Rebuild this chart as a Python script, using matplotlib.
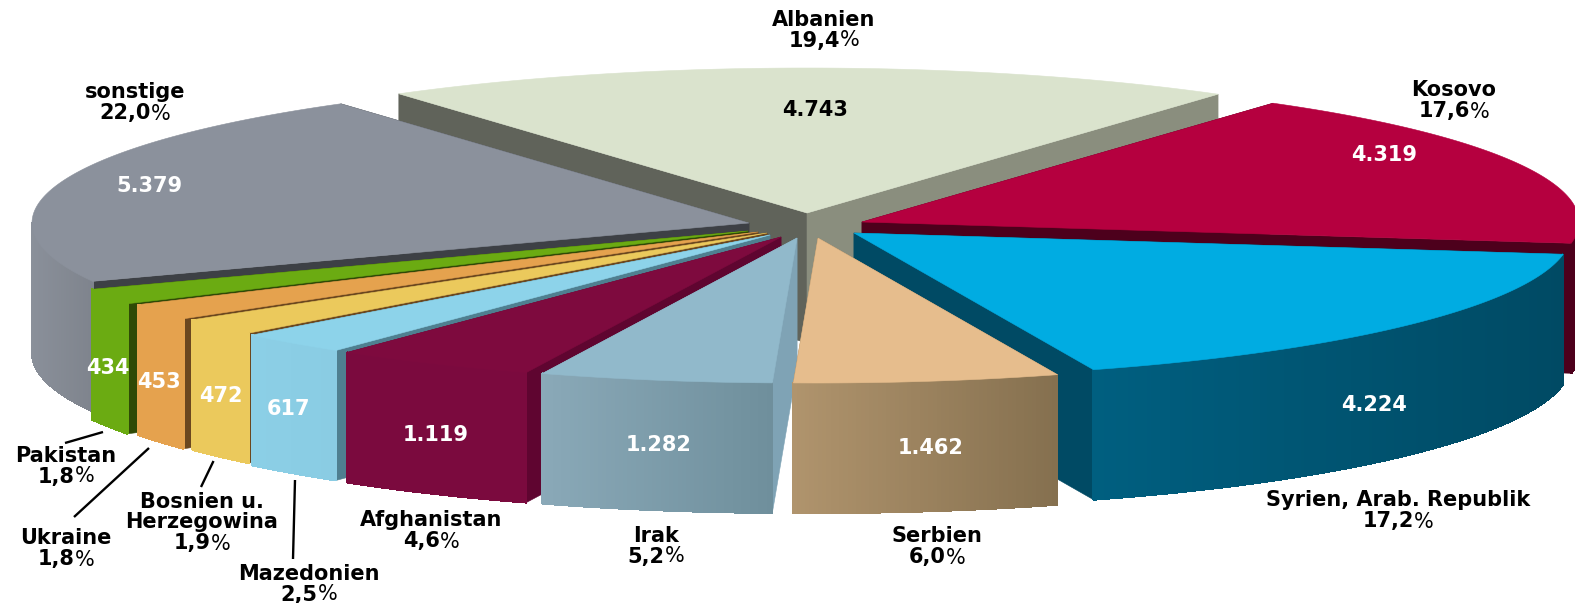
import numpy as np
import matplotlib
matplotlib.use('Agg')
import matplotlib.pyplot as plt
from matplotlib.colors import to_rgb
from matplotlib.patches import Polygon

# Chart data, clockwise from the back
countries = ['Albanien', 'Kosovo', 'Syrien, Arab. Republik', 'Serbien', 'Irak', 'Afghanistan',
             'Mazedonien', 'Bosnien u.\nHerzegowina', 'Ukraine', 'Pakistan', 'sonstige']
counts = [4743, 4319, 4224, 1462, 1282, 1119, 617, 472, 453, 434, 5379]
count_labels = ['4.743', '4.319', '4.224', '1.462', '1.282', '1.119', '617', '472', '453', '434', '5.379']
percent_labels = ['19,4', '17,6', '17,2', '6,0', '5,2', '4,6', '2,5', '1,9', '1,8', '1,8', '22,0']

# Pie geometry in pixels
RX = 717
RY = 145
DEPTH = 130
START_ANGLE = 124.7
apex_x = [807, 862, 854, 818, 797, 781, 770, 767, 758, 748, 749]
apex_y = [213, 222, 233, 238, 238, 237, 235, 233, 232, 231, 223]

top_colors = ['#dae3cd', '#b5003f', '#00ace2', '#e6bd8d', '#91b9cb', '#7e0a3e',
              '#8dd3ea', '#ebc95c', '#e5a24e', '#6bab12', '#8b919c']
start_wall = ['#60635a', '#4d001c', '#004a64', '#85704f', '#7fa3b5', '#5f0530',
              '#4f7f90', '#6b471f', '#6b471f', '#2f4a06', '#3d4045']
end_wall = ['#8a8e7e', '#4d001c', '#004a64', '#85704f', '#7fa3b5', '#5f0530',
            '#4f7f90', '#6b471f', '#6b471f', '#2f4a06', '#3d4045']
wall_left = ['#8a8e7e', '#4d001c', '#005f80', '#b0946d', '#8aa9b8', '#7b0a3e',
             '#8bcfe6', '#ebc95c', '#e5a24e', '#6bab12', '#8a909a']
wall_right = ['#8a8e7e', '#4d001c', '#004a64', '#85704f', '#6f8f9c', '#7b0a3e',
              '#8accE3', '#ebc95c', '#e5a24e', '#6bab12', '#7f848d']

draw_order = [0, 10, 1, 9, 8, 7, 6, 5, 2, 4, 3]

label_xy = {0: (824, 17.5), 1: (1454, 88.5), 2: (1398, 498.5), 3: (937, 534.5), 4: (656, 533.5), 5: (431, 518.5),
            6: (309, 571.5), 7: (202, 499.5), 8: (66, 536.5), 9: (66, 453.5), 10: (135, 90.5)}
count_xy = [(815, 108), (1384, 153), (1374, 403), (931, 446), (659, 443), (436, 433),
            (288, 407), (221, 394), (159, 380), (108, 366), (149, 184)]
leaders = [((65, 443), (103, 432)), ((74, 517), (149, 448)), ((201, 487), (213.5, 461)), ((293, 559), (295, 480))]

plt.rcParams['font.family'] = ['DejaVu Sans']
FONT = 15

fig = plt.figure(figsize=(15.75, 6.03), dpi=100)
ax = fig.add_axes([0, 0, 1, 1])
ax.set_xlim(0, 1575)
ax.set_ylim(603, 0)
ax.axis('off')

sweep = 360.0 * np.array(counts) / sum(counts)
ends = START_ANGLE - np.cumsum(sweep)
starts = ends + sweep


def rim(i, deg):
    rad = np.radians(deg)
    return apex_x[i] + RX * np.cos(rad), apex_y[i] - RY * np.sin(rad)


def quad(z, pts, color, smooth=True):
    ax.add_patch(Polygon(pts, closed=True, facecolor=color, edgecolor=color, linewidth=0.4 if smooth else 0.8,
                         zorder=z, antialiased=smooth))


def blend(c0, c1, t):
    a, b = np.array(to_rgb(c0)), np.array(to_rgb(c1))
    return tuple(a + (b - a) * t)


for z, i in enumerate(draw_order):
    ax0, ay0 = apex_x[i], apex_y[i]
    # edge walls first, the slice covers the ones that face away
    for deg, col in ((starts[i], start_wall[i]), (ends[i], end_wall[i])):
        x, y = rim(i, deg)
        quad(z, [(ax0, ay0), (x, y), (x, y + DEPTH), (ax0, ay0 + DEPTH)], col)
    # outer wall as thin strips for the shading, only the front half of the rim shows
    angles = np.linspace(starts[i], ends[i], max(int(sweep[i] * 3), 12))
    xs, ys = rim(i, angles)
    front = np.sin(np.radians(angles)) <= 0.004
    if front.any():
        fx, fy = xs[front], ys[front]
        order = np.argsort(fx)
        fx, fy = fx[order], fy[order]
        lo, hi = fx.min(), fx.max()
        for k in range(len(fx) - 1):
            t = ((fx[k] + fx[k + 1]) / 2 - lo) / max(hi - lo, 1)
            quad(z, [(fx[k], fy[k]), (fx[k + 1], fy[k + 1]), (fx[k + 1], fy[k + 1] + DEPTH), (fx[k], fy[k] + DEPTH)],
                 blend(wall_left[i], wall_right[i], t), smooth=False)
    quad(z, [(ax0, ay0)] + list(zip(xs, ys)), top_colors[i])

for (x0, y0), (x1, y1) in leaders:
    ax.plot([x0, x1], [y0, y1], color='black', lw=1.7, zorder=30, solid_capstyle='butt')

renderer = fig.canvas.get_renderer()
for i, name in enumerate(countries):
    x, y = label_xy[i]
    parts = name.split('\n')
    for j, part in enumerate(parts):
        ax.text(x, y + 21 * j, part, ha='center', va='center_baseline', fontsize=FONT, fontweight='bold', zorder=31)
    # number bold, percent sign thin
    py = y + 21 * len(parts)
    num = ax.text(x, py, percent_labels[i], ha='left', va='center_baseline', fontsize=FONT, fontweight='bold', zorder=31)
    pct = ax.text(x, py, '%', ha='left', va='center_baseline', fontsize=FONT, fontweight='normal', zorder=31)
    w0 = num.get_window_extent(renderer).width
    w1 = pct.get_window_extent(renderer).width
    num.set_x(x - (w0 + w1) / 2)
    pct.set_x(x - (w0 + w1) / 2 + w0)

for i, label in enumerate(count_labels):
    ax.text(count_xy[i][0], count_xy[i][1], label, ha='center', va='center_baseline', fontsize=FONT, fontweight='bold',
            color='black' if i == 0 else 'white', zorder=32)

fig.savefig('out.png', dpi=100, facecolor='white')
